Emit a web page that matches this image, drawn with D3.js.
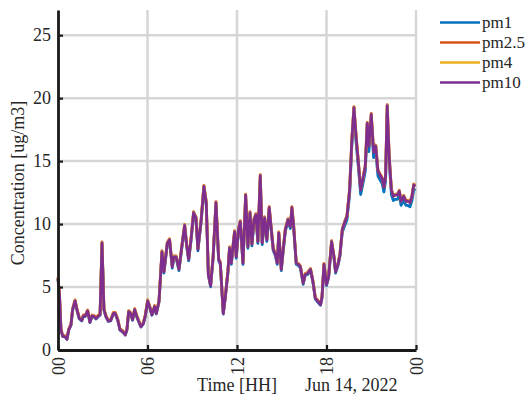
<!DOCTYPE html>
<html>
<head>
<meta charset="utf-8">
<script src="https://cdn.jsdelivr.net/npm/d3@7/dist/d3.min.js"></script>
<style>
  html, body { margin: 0; padding: 0; background: #fff; }
  svg { display: block; }
  text { font-family: "Liberation Serif", "Times New Roman", serif; fill: #262626; }
</style>
</head>
<body>
<svg id="chart" width="529" height="403"></svg>
<script>
// Hours since midnight, Jun 14, 2022
const hours = [
  0.00, 0.10, 0.20, 0.31, 0.49, 0.60, 0.72, 0.87, 0.98, 1.14,
  1.27, 1.43, 1.59, 1.70, 1.83, 1.99, 2.14, 2.28, 2.43, 2.55,
  2.71, 2.82, 2.95, 3.08, 3.22, 3.37, 3.53, 3.71, 3.84, 4.00,
  4.16, 4.34, 4.51, 4.62, 4.74, 4.87, 5.00, 5.14, 5.27, 5.40,
  5.56, 5.72, 5.85, 6.01, 6.15, 6.30, 6.48, 6.59, 6.77, 6.97,
  7.10, 7.33, 7.48, 7.66, 7.77, 7.92, 8.11, 8.30, 8.49, 8.62,
  8.76, 8.92, 9.09, 9.25, 9.38, 9.60, 9.78, 9.94, 10.08, 10.23,
  10.40, 10.59, 10.77, 10.88, 11.08, 11.22, 11.39, 11.50, 11.62, 11.73,
  11.84, 11.95, 12.10, 12.22, 12.40, 12.58, 12.73, 12.87, 13.00, 13.14,
  13.27, 13.40, 13.56, 13.69, 13.85, 14.00, 14.16, 14.30, 14.43, 14.57,
  14.70, 14.80, 14.97, 15.10, 15.24, 15.42, 15.58, 15.68, 15.80, 15.97,
  16.12, 16.25, 16.44, 16.57, 16.75, 16.93, 17.09, 17.25, 17.43, 17.60,
  17.70, 17.83, 18.00, 18.14, 18.34, 18.50, 18.61, 18.77, 18.90, 19.06,
  19.21, 19.37, 19.55, 19.70, 19.84, 20.00, 20.15, 20.29, 20.40, 20.60,
  20.73, 20.84, 21.00, 21.16, 21.30, 21.45, 21.59, 21.73, 21.85, 21.96,
  22.07, 22.20, 22.35, 22.48, 22.60, 22.75, 22.88, 23.00, 23.17, 23.33,
  23.46, 23.60, 23.73, 23.85, 23.96
];

const pm1 = [
  5.62, 4.24, 1.58, 1.08, 1.03, 0.84, 1.58, 1.97, 3.15, 3.84,
  3.15, 2.46, 2.31, 2.66, 2.66, 3.05, 2.17, 2.66, 2.61, 2.46,
  2.66, 2.76, 8.37, 3.15, 2.61, 2.27, 2.31, 2.86, 2.86, 2.36,
  1.58, 1.43, 1.18, 1.58, 3.0, 2.86, 2.36, 3.15, 2.66, 2.27,
  1.82, 2.07, 2.66, 3.84, 3.35, 2.76, 3.4, 2.86, 3.79, 7.68,
  6.11, 8.37, 8.62, 6.5, 7.29, 7.29, 6.3, 8.08, 9.75, 8.27,
  7.09, 8.67, 10.74, 10.34, 7.88, 10.19, 12.75, 11.52, 5.91, 5.02,
  7.29, 11.52, 7.09, 6.8, 2.86, 4.19, 6.11, 7.98, 6.8, 8.08,
  9.26, 7.29, 9.41, 10.05, 6.8, 12.05, 8.08, 10.74, 8.27, 10.19,
  10.59, 8.47, 13.55, 8.37, 10.34, 8.62, 11.13, 9.41, 7.88, 7.49,
  6.8, 9.16, 6.3, 7.88, 9.41, 10.19, 9.65, 11.13, 9.65, 6.8,
  6.7, 6.5, 5.22, 5.91, 6.01, 6.3, 5.37, 4.04, 3.79, 3.55,
  4.14, 6.7, 5.12, 5.71, 8.47, 7.29, 6.11, 6.7, 7.44, 9.38,
  9.85, 10.32, 12.35, 16.25, 18.75, 16.25, 14.3, 12.35, 12.95, 14.2,
  17.5, 15.75, 18.2, 15.28, 15.75, 13.82, 13.52, 13.22, 12.55, 13.42,
  18.9, 14.98, 12.35, 11.87, 11.96, 11.96, 12.26, 11.48, 11.87, 11.48,
  11.48, 11.38, 11.87, 12.75, 12.65
];

const pm25 = [
  5.78, 4.38, 1.68, 1.18, 1.13, 0.93, 1.68, 2.08, 3.28, 3.98,
  3.28, 2.58, 2.43, 2.78, 2.78, 3.18, 2.28, 2.78, 2.73, 2.58,
  2.78, 2.88, 8.58, 3.28, 2.73, 2.38, 2.43, 2.98, 2.98, 2.48,
  1.68, 1.53, 1.28, 1.68, 3.13, 2.98, 2.48, 3.28, 2.78, 2.38,
  1.93, 2.18, 2.78, 3.98, 3.48, 2.88, 3.53, 2.98, 3.93, 7.88,
  6.28, 8.58, 8.83, 6.68, 7.48, 7.48, 6.48, 8.28, 9.98, 8.48,
  7.28, 8.88, 10.98, 10.58, 8.08, 10.43, 13.08, 11.78, 6.08, 5.18,
  7.48, 11.78, 7.28, 6.98, 2.98, 4.33, 6.28, 8.18, 6.98, 8.28,
  9.48, 7.48, 9.63, 10.28, 6.98, 12.38, 8.28, 10.98, 8.48, 10.43,
  10.83, 8.68, 13.93, 8.58, 10.58, 8.83, 11.38, 9.63, 8.08, 7.68,
  6.98, 9.38, 6.48, 8.08, 9.63, 10.43, 9.88, 11.38, 9.88, 6.98,
  6.88, 6.68, 5.38, 6.08, 6.18, 6.48, 5.53, 4.18, 3.93, 3.68,
  4.28, 6.88, 5.28, 5.88, 8.68, 7.48, 6.28, 6.88, 7.63, 9.63,
  10.18, 10.68, 12.78, 16.78, 19.33, 16.78, 14.78, 12.78, 13.38, 14.68,
  18.08, 16.28, 18.78, 15.78, 16.28, 14.28, 13.98, 13.68, 12.98, 13.88,
  19.48, 15.48, 12.78, 12.28, 12.38, 12.38, 12.68, 11.88, 12.28, 11.88,
  11.88, 11.78, 12.28, 13.18, 13.08
];

const pm4 = [
  5.73, 4.33, 1.63, 1.13, 1.08, 0.88, 1.63, 2.03, 3.23, 3.93,
  3.23, 2.53, 2.38, 2.73, 2.73, 3.13, 2.23, 2.73, 2.68, 2.53,
  2.73, 2.83, 8.53, 3.23, 2.68, 2.33, 2.38, 2.93, 2.93, 2.43,
  1.63, 1.48, 1.23, 1.63, 3.08, 2.93, 2.43, 3.23, 2.73, 2.33,
  1.88, 2.13, 2.73, 3.93, 3.43, 2.83, 3.48, 2.93, 3.88, 7.83,
  6.23, 8.53, 8.78, 6.63, 7.43, 7.43, 6.43, 8.23, 9.93, 8.43,
  7.23, 8.83, 10.93, 10.53, 8.03, 10.38, 13.03, 11.73, 6.03, 5.13,
  7.43, 11.73, 7.23, 6.93, 2.93, 4.28, 6.23, 8.13, 6.93, 8.23,
  9.43, 7.43, 9.58, 10.23, 6.93, 12.33, 8.23, 10.93, 8.43, 10.38,
  10.78, 8.63, 13.88, 8.53, 10.53, 8.78, 11.33, 9.58, 8.03, 7.63,
  6.93, 9.33, 6.43, 8.03, 9.58, 10.38, 9.83, 11.33, 9.83, 6.93,
  6.83, 6.63, 5.33, 6.03, 6.13, 6.43, 5.48, 4.13, 3.88, 3.63,
  4.23, 6.83, 5.23, 5.83, 8.63, 7.43, 6.23, 6.83, 7.58, 9.58,
  10.13, 10.63, 12.73, 16.73, 19.28, 16.73, 14.73, 12.73, 13.33, 14.63,
  18.03, 16.23, 18.73, 15.73, 16.23, 14.23, 13.93, 13.63, 12.93, 13.83,
  19.43, 15.43, 12.73, 12.23, 12.33, 12.33, 12.63, 11.83, 12.23, 11.83,
  11.83, 11.73, 12.23, 13.13, 13.03
];

const pm10 = [
  5.7, 4.3, 1.6, 1.1, 1.05, 0.85, 1.6, 2.0, 3.2, 3.9,
  3.2, 2.5, 2.35, 2.7, 2.7, 3.1, 2.2, 2.7, 2.65, 2.5,
  2.7, 2.8, 8.5, 3.2, 2.65, 2.3, 2.35, 2.9, 2.9, 2.4,
  1.6, 1.45, 1.2, 1.6, 3.05, 2.9, 2.4, 3.2, 2.7, 2.3,
  1.85, 2.1, 2.7, 3.9, 3.4, 2.8, 3.45, 2.9, 3.85, 7.8,
  6.2, 8.5, 8.75, 6.6, 7.4, 7.4, 6.4, 8.2, 9.9, 8.4,
  7.2, 8.8, 10.9, 10.5, 8.0, 10.35, 13.0, 11.7, 6.0, 5.1,
  7.4, 11.7, 7.2, 6.9, 2.9, 4.25, 6.2, 8.1, 6.9, 8.2,
  9.4, 7.4, 9.55, 10.2, 6.9, 12.3, 8.2, 10.9, 8.4, 10.35,
  10.75, 8.6, 13.85, 8.5, 10.5, 8.75, 11.3, 9.55, 8.0, 7.6,
  6.9, 9.3, 6.4, 8.0, 9.55, 10.35, 9.8, 11.3, 9.8, 6.9,
  6.8, 6.6, 5.3, 6.0, 6.1, 6.4, 5.45, 4.1, 3.85, 3.6,
  4.2, 6.8, 5.2, 5.8, 8.6, 7.4, 6.2, 6.8, 7.55, 9.55,
  10.1, 10.6, 12.7, 16.7, 19.25, 16.7, 14.7, 12.7, 13.3, 14.6,
  18.0, 16.2, 18.7, 15.7, 16.2, 14.2, 13.9, 13.6, 12.9, 13.8,
  19.4, 15.4, 12.7, 12.2, 12.3, 12.3, 12.6, 11.8, 12.2, 11.8,
  11.8, 11.7, 12.2, 13.1, 13.0
];

const seriesNames = ["pm1", "pm2.5", "pm4", "pm10"];
const seriesColors = ["#0072BD", "#D95319", "#EDB120", "#7E2F8E"];
const seriesValues = [pm1, pm25, pm4, pm10];

const xTickHours = [0, 6, 12, 18, 24];
const xTickLabels = ["00", "06", "12", "18", "00"];
const yTicks = [0, 5, 10, 15, 20, 25];

const svg = d3.select("#chart");
const plot = { left: 58, right: 416, top: 10, bottom: 350 };

const x = d3.scaleLinear().domain([0, 24]).range([plot.left, plot.right]);
const y = d3.scaleLinear().domain([0, 27]).range([plot.bottom, plot.top]);

// Grid lines
const grid = svg.append("g");
grid.selectAll("line.hg").data(yTicks.filter(d => d > 0)).join("line")
  .attr("x1", plot.left).attr("x2", plot.right)
  .attr("y1", d => y(d)).attr("y2", d => y(d))
  .attr("stroke", "#d6d6d6").attr("stroke-width", 2.5);
grid.selectAll("line.vg").data(xTickHours.filter(d => d > 0)).join("line")
  .attr("x1", d => x(d)).attr("x2", d => x(d))
  .attr("y1", plot.top).attr("y2", plot.bottom)
  .attr("stroke", "#d6d6d6").attr("stroke-width", 2.5);

// Series lines, pm1 first so pm10 ends up on top
const line = d3.line()
  .x((d, i) => x(hours[i]))
  .y(d => y(d));

svg.append("g").selectAll("path").data(seriesValues).join("path")
  .attr("d", d => line(d))
  .attr("fill", "none")
  .attr("stroke", (d, i) => seriesColors[i])
  .attr("stroke-width", 2.8)
  .attr("stroke-linejoin", "round");

// Axes
const xAxis = d3.axisBottom(x).tickValues(xTickHours).tickFormat((d, i) => xTickLabels[i])
  .tickSizeInner(-5).tickSizeOuter(0).tickPadding(8);
const gx = svg.append("g").attr("transform", `translate(0,${plot.bottom})`).call(xAxis);
gx.select(".domain").attr("stroke", "#1a1a1a").attr("stroke-width", 2.8);
gx.selectAll(".tick line").attr("stroke", "#1a1a1a").attr("stroke-width", 2.2);
gx.selectAll(".tick text")
  .attr("font-family", "Liberation Serif, Times New Roman, serif")
  .attr("font-size", 18).attr("fill", "#262626")
  .attr("text-anchor", "end")
  .attr("dominant-baseline", "central")
  .attr("dy", null)
  .attr("y", 0)
  .attr("transform", "translate(0,7) rotate(-90)");

const yAxis = d3.axisLeft(y).tickValues(yTicks).tickFormat(d3.format("d"))
  .tickSizeInner(-5).tickSizeOuter(0).tickPadding(7);
const gy = svg.append("g").attr("transform", `translate(${plot.left},0)`).call(yAxis);
gy.select(".domain").attr("stroke", "#1a1a1a").attr("stroke-width", 2.8);
gy.selectAll(".tick line").attr("stroke", "#1a1a1a").attr("stroke-width", 2.2);
gy.selectAll(".tick text")
  .attr("font-family", "Liberation Serif, Times New Roman, serif")
  .attr("font-size", 18).attr("fill", "#262626");

// Axis titles
svg.append("text")
  .attr("transform", `translate(24,${(plot.top + plot.bottom) / 2 + 3}) rotate(-90)`)
  .attr("text-anchor", "middle")
  .attr("font-size", 18)
  .text("Concentration [ug/m3]");

svg.append("text")
  .attr("x", x(12)).attr("y", 391)
  .attr("text-anchor", "middle")
  .attr("font-size", 18)
  .text("Time [HH]");

svg.append("text")
  .attr("x", 305).attr("y", 391)
  .attr("text-anchor", "start")
  .attr("font-size", 18)
  .text("Jun 14, 2022");

// Legend
const legend = svg.append("g");
const lg = legend.selectAll("g").data(seriesNames).join("g")
  .attr("transform", (d, i) => `translate(440,${22.5 + i * 20})`);
lg.append("line")
  .attr("x1", 0).attr("x2", 40).attr("y1", 0).attr("y2", 0)
  .attr("stroke", (d, i) => seriesColors[i]).attr("stroke-width", 2.4);
lg.append("text")
  .attr("x", 42).attr("y", 0)
  .attr("dominant-baseline", "central")
  .attr("font-size", 17)
  .text(d => d);
</script>
</body>
</html>
